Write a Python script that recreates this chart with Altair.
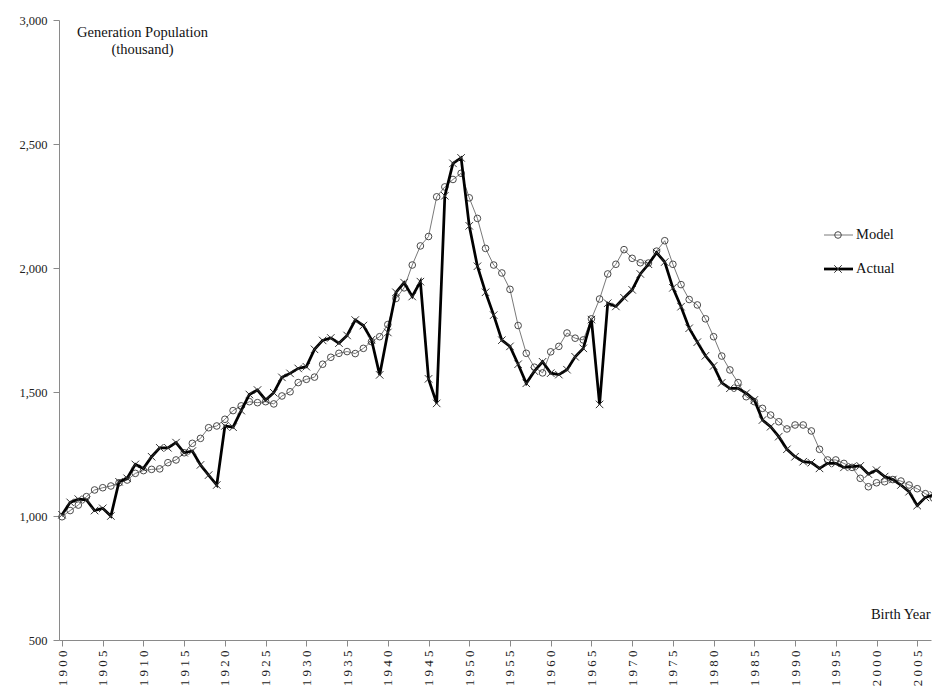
import altair as alt
import pandas as pd

# Birth years 1900-2007
YEARS = list(range(1900, 2008))

# Generation population (thousand), model estimate
MODEL = [
    997, 1022, 1044, 1078, 1105, 1114, 1121, 1134, 1145, 1172,
    1183, 1188, 1190, 1215, 1226, 1255, 1293, 1313, 1356, 1363,
    1390, 1425, 1444, 1461, 1457, 1461, 1452, 1484, 1501, 1538,
    1551, 1560, 1612, 1640, 1656, 1663, 1655, 1676, 1703, 1723,
    1772, 1877, 1920, 2012, 2089, 2127, 2287, 2327, 2357, 2382,
    2283, 2200, 2079, 2012, 1980, 1914, 1768, 1656, 1600, 1577,
    1662, 1684, 1738, 1717, 1710, 1795, 1875, 1976, 2015, 2074,
    2039, 2021, 2020, 2068, 2110, 2015, 1933, 1873, 1851, 1795,
    1723, 1645, 1589, 1538, 1481, 1461, 1434, 1407, 1380, 1351,
    1367, 1367, 1343, 1269, 1226, 1226, 1212, 1196, 1152, 1118,
    1134, 1138, 1147, 1141, 1125, 1110, 1090, 1072,
]

# Generation population (thousand), actual
ACTUAL = [
    1005, 1055, 1068, 1065, 1022, 1031, 1000, 1138, 1152, 1208,
    1192, 1239, 1275, 1275, 1296, 1255, 1262, 1206, 1165, 1125,
    1363, 1358, 1425, 1490, 1508, 1468, 1497, 1559, 1575, 1595,
    1602, 1672, 1708, 1718, 1697, 1728, 1790, 1768, 1711, 1569,
    1740, 1902, 1941, 1885, 1945, 1553, 1454, 2291, 2422, 2444,
    2170, 2007, 1902, 1810, 1709, 1684, 1612, 1535, 1584, 1622,
    1576, 1570, 1590, 1642, 1676, 1792, 1450, 1858, 1845, 1880,
    1912, 1976, 2015, 2062, 2024, 1920, 1844, 1757, 1701, 1646,
    1605, 1537, 1515, 1515, 1495, 1468, 1387, 1360, 1320, 1269,
    1239, 1219, 1215, 1192, 1212, 1212, 1196, 1199, 1202, 1169,
    1185, 1159, 1147, 1125, 1098, 1042, 1075, 1085,
]

SERIES = ["Model", "Actual"]
X_TICKS = list(range(1900, 2006, 5))
Y_TICKS = [500, 1000, 1500, 2000, 2500, 3000]

FONT = "Liberation Serif"
AXIS_GRAY = "#8a8a8a"
X_SHAPE = "M-1,-1L1,1M-1,1L1,-1"

df = pd.DataFrame({"Year": YEARS, "Model": MODEL, "Actual": ACTUAL})

x_scale = alt.Scale(domain=[1899.63, 2006.69], nice=False, zero=False)
y_scale = alt.Scale(domain=[500, 3000], nice=False, zero=False)

x_axis = alt.Axis(
    values=X_TICKS, format="d", grid=False,
    labelAngle=270, labelAlign="right", labelBaseline="middle",
    labelPadding=4, labelFont=FONT, labelFontSize=13, labelColor="#222222",
    labelExpr="join(split(datum.label, ''), ' ')",
    labelFlush=False, labelOverlap=False, labelBound=False,
    tickSize=6, tickColor=AXIS_GRAY, domainColor=AXIS_GRAY,
    title="Birth Year", titleFont=FONT, titleFontSize=14.5,
    titleFontWeight="normal", titleColor="#111111",
    titleX=871, titleY=-26, titleAlign="right", titleBaseline="middle",
)
y_axis = alt.Axis(
    values=Y_TICKS, format=",d", grid=False,
    labelPadding=6, labelFont=FONT, labelFontSize=12.5, labelColor="#222222",
    labelFlush=False, labelOverlap=False,
    tickSize=6, tickColor=AXIS_GRAY, domainColor=AXIS_GRAY,
    title=["Generation Population", "(thousand)"], titleFont=FONT,
    titleFontSize=14.5, titleFontWeight="normal", titleColor="#111111",
    titleAngle=0, titleX=83, titleY=5, titleAlign="center",
    titleBaseline="top", titleLineHeight=17,
)

X_ENC = alt.X("Year:Q", scale=x_scale, axis=x_axis)


def y_enc(field):
    return alt.Y(f"{field}:Q", scale=y_scale, axis=y_axis)


base = alt.Chart(df)

model_line = base.mark_line(color="#7a7a7a", strokeWidth=1, clip=False).encode(
    x=X_ENC, y=y_enc("Model"),
)
model_pts = base.mark_point(
    shape="circle", size=44, filled=False, stroke="#4a4a4a",
    strokeWidth=1, opacity=1, clip=False,
).encode(x=X_ENC, y=y_enc("Model"))
actual_line = base.mark_line(color="#000000", strokeWidth=2.75, clip=False).encode(
    x=X_ENC, y=y_enc("Actual"),
)
actual_pts = base.mark_point(
    shape=X_SHAPE, size=56, filled=False, stroke="#333333",
    strokeWidth=1, opacity=1, clip=False,
).encode(x=X_ENC, y=y_enc("Actual"))

# Legend drawn as small marks inside the plot area
leg_model = alt.Chart(pd.DataFrame({"label": [SERIES[0]]}))
leg_actual = alt.Chart(pd.DataFrame({"label": [SERIES[1]]}))

legend_layers = [
    leg_model.mark_rule(color="#7a7a7a", strokeWidth=1).encode(
        x=alt.value(765), x2=alt.value(794), y=alt.value(215)),
    leg_model.mark_point(shape="circle", size=44, filled=False,
                         stroke="#4a4a4a", strokeWidth=1, opacity=1).encode(
        x=alt.value(779), y=alt.value(215)),
    leg_model.mark_text(align="left", baseline="middle", font=FONT,
                        fontSize=14.5, color="#111111").encode(
        x=alt.value(797), y=alt.value(215), text="label:N"),
    leg_actual.mark_rule(color="#000000", strokeWidth=2.75).encode(
        x=alt.value(765), x2=alt.value(794), y=alt.value(249)),
    leg_actual.mark_point(shape=X_SHAPE, size=56, filled=False,
                          stroke="#333333", strokeWidth=1, opacity=1).encode(
        x=alt.value(779), y=alt.value(249)),
    leg_actual.mark_text(align="left", baseline="middle", font=FONT,
                         fontSize=14.5, color="#111111").encode(
        x=alt.value(797), y=alt.value(249), text="label:N"),
]

chart = alt.layer(
    model_line, model_pts, actual_line, actual_pts, *legend_layers
).properties(
    width=872,
    height=620,
    autosize=alt.AutoSizeParams(type="none"),
    padding={"left": 59, "top": 20, "right": 1, "bottom": 53},
    background="white",
).configure_view(stroke=None)

chart.save("out.html", embed_options={"renderer": "svg", "actions": False})
